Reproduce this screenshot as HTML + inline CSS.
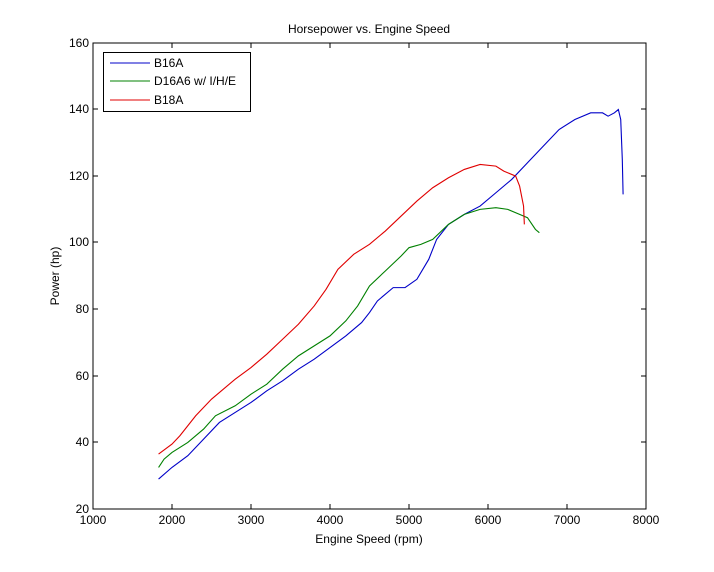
<!DOCTYPE html>
<html><head><style>body{margin:0;background:#fff}svg{display:block;font-family:"Liberation Sans",sans-serif}</style></head><body>
<svg width="714" height="572" xmlns="http://www.w3.org/2000/svg">
<rect width="714" height="572" fill="#fff"/>
<rect x="93" y="43" width="553" height="466" fill="#fff" stroke="#000" stroke-width="1"/>
<g stroke="#000" stroke-width="1">
<path d="M172,509v-5M251,509v-5M330,509v-5M409,509v-5M488,509v-5M567,509v-5M172,43v5M251,43v5M330,43v5M409,43v5M488,43v5M567,43v5"/>
<path d="M93,442h5M93,376h5M93,309h5M93,242h5M93,176h5M93,109h5M646,442h-5M646,376h-5M646,309h-5M646,242h-5M646,176h-5M646,109h-5"/>
</g>
<g font-size="12" fill="#000" text-anchor="middle">
<text x="93" y="524">1000</text><text x="172" y="524">2000</text><text x="251" y="524">3000</text><text x="330" y="524">4000</text><text x="409" y="524">5000</text><text x="488" y="524">6000</text><text x="567" y="524">7000</text><text x="646" y="524">8000</text>
</g>
<g font-size="12" fill="#000" text-anchor="end">
<text x="89" y="513">20</text><text x="89" y="446">40</text><text x="89" y="380">60</text><text x="89" y="313">80</text><text x="89" y="246">100</text><text x="89" y="180">120</text><text x="89" y="113">140</text><text x="89" y="47">160</text>
</g>
<text x="369" y="33" font-size="12" text-anchor="middle">Horsepower vs. Engine Speed</text>
<text x="369" y="543" font-size="12" text-anchor="middle">Engine Speed (rpm)</text>
<text x="59" y="276" font-size="12" text-anchor="middle" transform="rotate(-90 59 276)">Power (hp)</text>
<g transform="translate(93,509) scale(0.079,-3.329) translate(-1000,-20)" fill="none" stroke-width="1.1">
<polyline vector-effect="non-scaling-stroke" stroke="#0000c8" points="1830,29 2000,32.5 2200,36 2400,41 2600,46 2800,49 3000,52 3200,55.5 3400,58.5 3600,62 3800,65 4000,68.5 4200,72 4400,76 4500,79 4600,82.5 4800,86.5 4950,86.5 5100,89 5250,95 5350,101 5500,105.5 5700,108.5 5900,111 6100,115 6300,119 6500,124 6700,129 6900,134 7100,137 7300,139 7450,139 7520,138 7600,139 7650,140 7680,137 7700,125 7710,114.5"/>
<polyline vector-effect="non-scaling-stroke" stroke="#008000" points="1830,32.5 1900,35 2000,37 2200,40 2400,44 2550,48 2800,51 3000,54.5 3200,57.5 3400,62 3600,66 3800,69 4000,72 4200,76.5 4350,81 4500,87 4700,91.5 4900,96 5000,98.5 5150,99.5 5300,101 5500,105.5 5700,108.5 5900,110 6100,110.5 6250,110 6400,108.5 6500,107.5 6600,104 6650,103"/>
<polyline vector-effect="non-scaling-stroke" stroke="#e00000" points="1830,36.5 2000,39.5 2100,42 2300,48 2500,53 2800,59 3000,62.5 3200,66.5 3400,71 3600,75.5 3800,81 3950,86 4100,92 4300,96.5 4500,99.5 4700,103.5 4900,108 5100,112.5 5300,116.5 5500,119.5 5700,122 5900,123.5 6100,123 6200,121.5 6350,120 6400,117 6450,111 6460,105.5"/>
</g>
<rect x="103.5" y="52.5" width="147" height="59" fill="#fff" stroke="#000"/>
<g stroke-width="1"><path d="M110,63h40" stroke="#0000c8"/><path d="M110,81h40" stroke="#008000"/><path d="M110,100h40" stroke="#e00000"/></g>
<g font-size="12"><text x="154" y="67">B16A</text><text x="154" y="85">D16A6 w/ I/H/E</text><text x="154" y="104">B18A</text></g>
</svg>
</body></html>
